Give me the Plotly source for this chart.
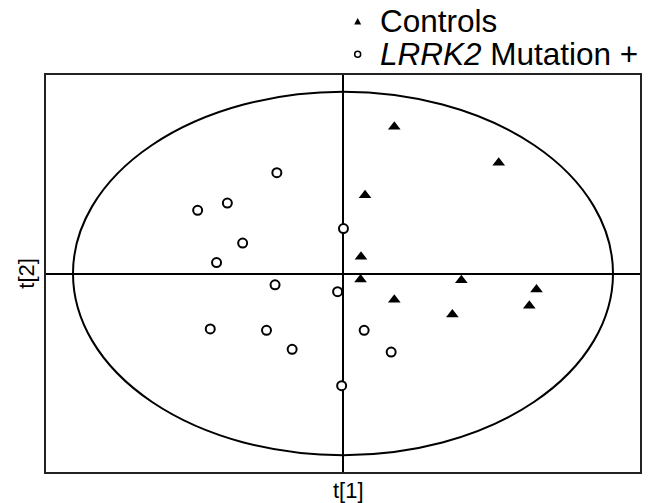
import plotly.graph_objects as go

# Score values t[1], t[2] for each group
controls_t1 = [1.14, 3.46, 0.49, 0.40, 0.39, 2.63, 4.30, 1.14, 4.14, 2.43]
controls_t2 = [3.23, 2.44, 1.72, 0.37, -0.13, -0.15, -0.35, -0.58, -0.71, -0.90]

lrrk2_t1 = [-1.47, -2.57, -3.23, -2.23, -2.81, 0.01, -1.51, -0.12,
            -2.95, -1.70, -1.13, 0.47, 1.07, -0.03]
lrrk2_t2 = [2.22, 1.55, 1.39, 0.67, 0.24, 0.99, -0.25, -0.40,
            -1.22, -1.25, -1.67, -1.25, -1.73, -2.47]

# Hotelling T2 ellipse semi-axes
ellipse_t1 = 6.0
ellipse_t2 = 4.0

x_range = [-6.6, 6.6]
y_range = [-4.37, 4.37]

FONT = "Liberation Sans, Arial, sans-serif"

fig = go.Figure()

fig.add_trace(go.Scatter(
    x=controls_t1, y=controls_t2, mode="markers", name="Controls",
    marker=dict(symbol="triangle-up", size=11, color="black",
                line=dict(width=0)),
    showlegend=False,
))
fig.add_trace(go.Scatter(
    x=lrrk2_t1, y=lrrk2_t2, mode="markers", name="LRRK2 Mutation +",
    marker=dict(symbol="circle", size=9, color="white",
                line=dict(width=2, color="black")),
    showlegend=False,
))

# Confidence ellipse
fig.add_shape(type="circle", xref="x", yref="y",
              x0=-ellipse_t1, x1=ellipse_t1, y0=-ellipse_t2, y1=ellipse_t2,
              line=dict(color="black", width=2), layer="below")

# Legend keys and labels
legend_items = [
    ("triangle", "Controls", 1.135),
    ("circle", "<i>LRRK2</i> Mutation +", 1.052),
]
for kind, label, ypos in legend_items:
    if kind == "triangle":
        fig.add_shape(type="path", xref="paper", yref="paper",
                      xsizemode="pixel", ysizemode="pixel",
                      xanchor=0.5247, yanchor=ypos,
                      path="M -3.5,-3 L 3.5,-3 L 0,3.5 Z",
                      fillcolor="black", line=dict(width=0))
    else:
        fig.add_shape(type="circle", xref="paper", yref="paper",
                      xsizemode="pixel", ysizemode="pixel",
                      xanchor=0.5247, yanchor=ypos,
                      x0=-3, x1=3, y0=-3, y1=3,
                      fillcolor="white", line=dict(width=1.5, color="black"))
    fig.add_annotation(text=label, xref="paper", yref="paper",
                       x=0.5587, y=ypos, xanchor="left", yanchor="middle",
                       showarrow=False,
                       font=dict(family=FONT, size=31.5, color="black"))

# Axis titles
fig.add_annotation(text="t[1]", xref="paper", yref="paper", x=0.51, y=-0.01,
                   xanchor="center", yanchor="top", showarrow=False,
                   font=dict(family=FONT, size=22, color="black"))
fig.add_annotation(text="t[2]", xref="paper", yref="paper", x=-0.009, y=0.5,
                   xanchor="right", yanchor="middle", textangle=-90,
                   showarrow=False,
                   font=dict(family=FONT, size=22, color="black"))

axis_common = dict(
    showgrid=False, showticklabels=False, ticks="",
    zeroline=True, zerolinecolor="black", zerolinewidth=2,
    showline=True, linecolor="#222", linewidth=2, mirror=True,
)
fig.update_xaxes(range=x_range, **axis_common)
fig.update_yaxes(range=y_range, **axis_common)

fig.update_layout(
    width=650, height=503,
    margin=dict(l=46, r=8, t=75, b=31),
    plot_bgcolor="white", paper_bgcolor="white",
    font=dict(family=FONT, color="black"),
    showlegend=False,
)

fig.write_html("out.html")
